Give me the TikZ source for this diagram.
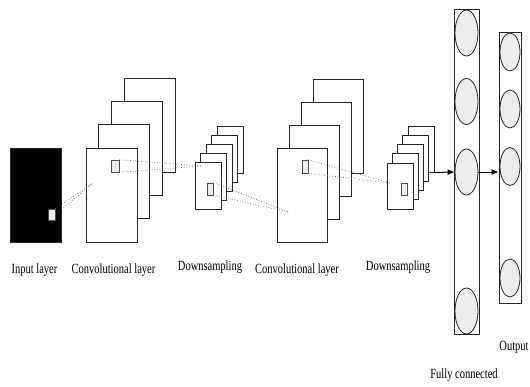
\documentclass[tikz,border=0pt]{standalone}
\usepackage{fontspec}
\setmainfont{Liberation Serif}[FakeStretch=0.75]
\usetikzlibrary{positioning,arrows.meta,shapes.geometric}

\begin{document}
\begin{tikzpicture}[x=1pt,y=-1pt,
    capa/.style={draw=black!85,fill=white,line width=0.9pt,inner sep=0pt}, %las capas son rectangulos blancos
    ventana/.style={draw=black!70,fill=gray!15,line width=0.6pt,inner sep=0pt},
    neurona/.style={draw=black!85,fill=gray!15,ellipse,line width=0.8pt,inner sep=0pt},
    puntos/.style={dotted,black!60,line width=0.7pt},
    flecha/.style={line width=1pt,-{Latex[length=7pt,width=6pt]}},
    etiqueta/.style={font=\fontsize{14}{16}\selectfont,inner sep=0pt}]
    %Ojo: y=-1pt, o sea las coordenadas van en pixeles y para abajo
    \useasboundingbox (0,0) rectangle (530,386);

    %Capa de entrada (negra) con su ventanita
    \node[capa,fill=black,minimum width=51pt,minimum height=94pt] (in) at (35.5,195) {};
    \node[ventana,minimum width=7pt,minimum height=11pt] (in-v) at (51.5,214.5) {};

    %Primera convolucion: 4 mapas apilados, del de atras al de adelante
    \foreach \k in {3,2,1,0}
        \node[capa,minimum width=51pt,minimum height=94pt] (c1-\k) at ({111.5+12.7*\k},{195-23.3*\k}) {};
    \node[ventana,minimum width=8pt,minimum height=12pt] (c1-v) at (115,166) {};

    %Primer downsampling: 5 mapas chiquitos
    \foreach \k in {4,3,2,1,0}
        \node[capa,minimum width=26pt,minimum height=47pt] (d1-\k) at ({208+5.5*\k},{185.5-9*\k}) {};
    \node[ventana,minimum width=6pt,minimum height=12pt] (d1-v) at (210,189) {};

    %Segunda convolucion
    \foreach \k in {3,2,1,0}
        \node[capa,minimum width=50pt,minimum height=94pt] (c2-\k) at ({302+12.3*\k},{195-23*\k}) {};
    \node[ventana,minimum width=6pt,minimum height=13pt] (c2-v) at (305,166.5) {};

    %Segundo downsampling
    \foreach \k in {4,3,2,1,0}
        \node[capa,minimum width=26pt,minimum height=46pt] (d2-\k) at ({400+5.25*\k},{186-9.25*\k}) {};
    \node[ventana,minimum width=6pt,minimum height=12pt] (d2-v) at (404,189) {};

    %Puntos donde se juntan las lineas punteadas
    \coordinate (c1-p) at (93,183);
    \coordinate (d1-p) at (201,166);
    \coordinate (c2-p) at (289,212);
    \coordinate (d2-p) at (390,183);

    %Lineas punteadas (campo receptivo)
    \draw[puntos] (in-v.north east) -- (c1-p);
    \draw[puntos] (in-v.east) -- (c1-p);
    \draw[puntos] (c1-v.north east) -- (d1-p);
    \draw[puntos] (c1-v.south east) -- (d1-p);
    \draw[puntos] (d1-v.north east) -- (c2-p);
    \draw[puntos] (d1-v.south east) -- (c2-p);
    \draw[puntos] (c2-v.north east) -- (d2-p);
    \draw[puntos] (c2-v.south east) -- (d2-p);

    %Capa fully connected y salida
    \node[capa,minimum width=25pt,minimum height=325pt] (fc) at (466.5,171.5) {};
    \foreach \n/\y in {1/33,2/101.5,3/172,4/311}
        \node[neurona,minimum width=23pt,minimum height=46pt] (fc-\n) at (466.5,\y) {};
    \node[capa,minimum width=22pt,minimum height=271pt] (out) at (510,167.5) {};
    \foreach \n/\y in {1/52,2/109,3/166.5,4/278}
        \node[neurona,minimum width=20pt,minimum height=38pt] (out-\n) at (510,\y) {};

    %Flechas
    \draw[flecha] (d2-4.south east) -- (fc-3.west);
    \draw[flecha] (fc-3.east) -- (fc-3.east -| out.west);

    %Etiquetas
    \node[etiqueta] (t-in) at (34.5,270) {Input layer};
    \node[etiqueta] (t-c1) at (113.5,270) {Convolutional layer};
    \node[etiqueta] (t-d1) at (210,267) {Downsampling};
    \node[etiqueta] (t-c2) at (297,270) {Convolutional layer};
    \node[etiqueta] (t-d2) at (398,267) {Downsampling};
    \node[etiqueta] (t-out) at (514,347) {Output};
    \node[etiqueta] (t-fc) at (464,375) {Fully connected};
\end{tikzpicture}
\end{document}
